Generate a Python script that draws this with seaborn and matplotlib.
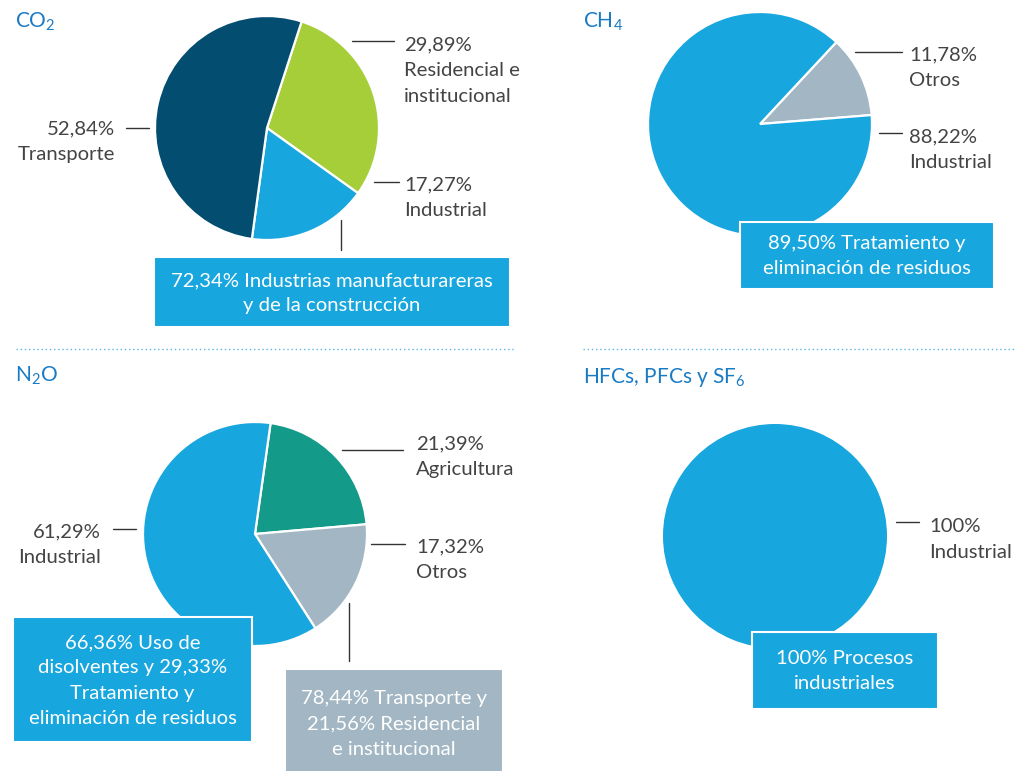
import matplotlib
matplotlib.use("Agg")
import matplotlib.pyplot as plt
import seaborn as sns
from matplotlib.patches import Rectangle

sns.set_style("white")
plt.rcParams['font.family'] = ['Lato', 'DejaVu Sans']
plt.rcParams['mathtext.default'] = 'regular'

W, H = 1016, 771

# Data
co2_cats = ["Residencial e\ninstitucional", "Industrial", "Transporte"]
co2_vals = [29.89, 17.27, 52.84]
co2_box = "72,34% Industrias manufacturareras\ny de la construcción"

ch4_cats = ["Otros", "Industrial"]
ch4_vals = [11.78, 88.22]
ch4_box = "89,50% Tratamiento y\neliminación de residuos"

n2o_cats = ["Agricultura", "Otros", "Industrial"]
n2o_vals = [21.39, 17.32, 61.29]
n2o_box_ind = "66,36% Uso de\ndisolventes y 29,33%\nTratamiento y\neliminación de residuos"
n2o_box_otros = "78,44% Transporte y\n21,56% Residencial\ne institucional"

hfc_cats = ["Industrial"]
hfc_vals = [100]
hfc_box = "100% Procesos\nindustriales"

DARK = "#034e70"
GREEN = "#a6ce39"
BLUE = "#18a6de"
GRAY = "#a2b6c3"
TEAL = "#139a88"
TITLE = "#1a7bc5"
TXT = "#444444"

fig = plt.figure(figsize=(W / 100, H / 100), dpi=100)


def pct(v):
    s = f"{v:.2f}".replace(".", ",")
    if s.endswith(",00"):
        s = s[:-3]
    return s + "%"


def draw_pie(cx, cy, vals, colors, start, r=112):
    ax = fig.add_axes([(cx - r) / W, 1 - (cy + r) / H, 2 * r / W, 2 * r / H])
    ax.pie(vals, colors=colors, startangle=start, counterclock=False,
           wedgeprops=dict(edgecolor="white", linewidth=1.6 if len(vals) > 1 else 0))
    ax.set_xlim(-1, 1)
    ax.set_ylim(-1, 1)
    ax.axis("off")
    return ax


draw_pie(267, 128, co2_vals, [GREEN, BLUE, DARK], 72)
draw_pie(760, 124, ch4_vals, [GRAY, BLUE], 47)
draw_pie(255, 534, n2o_vals, [TEAL, GRAY, BLUE], 82)
draw_pie(775, 536, hfc_vals, [BLUE], 90)

# overlay in pixel coordinates
ov = fig.add_axes([0, 0, 1, 1], zorder=10)
ov.set_xlim(0, W)
ov.set_ylim(H, 0)
ov.axis("off")
ov.patch.set_alpha(0)

lab_fs = 14.6


def label(x, y_line, x0, x1, y_base, cat, val, ha="left"):
    ov.plot([x0, x1], [y_line, y_line], color="#333333", lw=1)
    ov.text(x, y_base, pct(val), ha=ha, va="baseline", fontsize=lab_fs, color=TXT)
    for i, line in enumerate(cat.split("\n")):
        ov.text(x, y_base + 26 * (i + 1), line, ha=ha, va="baseline",
                fontsize=lab_fs, color=TXT)


def box(x0, y0, x1, y1, txt, color, base0):
    ov.add_patch(Rectangle((x0, y0), x1 - x0, y1 - y0, facecolor=color,
                           edgecolor="white", lw=1.5))
    for i, line in enumerate(txt.split("\n")):
        ov.text((x0 + x1) / 2, base0 + 25.3 * i, line, ha="center", va="baseline",
                fontsize=lab_fs, color="white")


def title(x, y, txt):
    ov.text(x, y, txt, ha="left", va="baseline", fontsize=15, color=TITLE)


# titles
title(15, 28, r"CO$_2$")
title(583, 28, r"CH$_4$")
title(15, 382, r"N$_2$O")
title(583, 383, r"HFCs, PFCs y SF$_6$")

# separators
ov.plot([16, 516], [349, 349], color="#5bb8e6", lw=1, ls=(0, (1, 2)))
ov.plot([583, 1016], [349, 349], color="#5bb8e6", lw=1, ls=(0, (1, 2)))

# CO2 labels
label(404, 41, 352, 394, 50, co2_cats[0], co2_vals[0])
label(404, 182, 374, 399, 190, co2_cats[1], co2_vals[1])
label(115, 128, 126, 149, 134, co2_cats[2], co2_vals[2], ha="right")
ov.plot([341, 341], [220, 250], color="#333333", lw=1)
box(154, 257, 510, 327, co2_box, BLUE, 286)

# CH4 labels
label(909, 52, 855, 902, 60, ch4_cats[0], ch4_vals[0])
label(909, 133, 879, 902, 142, ch4_cats[1], ch4_vals[1])
box(740, 222, 994, 289, ch4_box, BLUE, 249)

# N2O labels
label(416, 450, 342, 403, 449, n2o_cats[0], n2o_vals[0])
label(416, 544, 371, 405, 552, n2o_cats[1], n2o_vals[1])
label(101, 529, 113, 136, 537, n2o_cats[2], n2o_vals[2], ha="right")
ov.plot([349, 349], [603, 661], color="#333333", lw=1)
box(13, 617, 252, 742, n2o_box_ind, BLUE, 648)
box(285, 669, 503, 775, n2o_box_otros, GRAY, 704)

# HFC labels
label(929, 522, 896, 919, 532, hfc_cats[0], hfc_vals[0])
box(752, 632, 938, 709, hfc_box, BLUE, 664)

fig.savefig("out.png", dpi=100)
